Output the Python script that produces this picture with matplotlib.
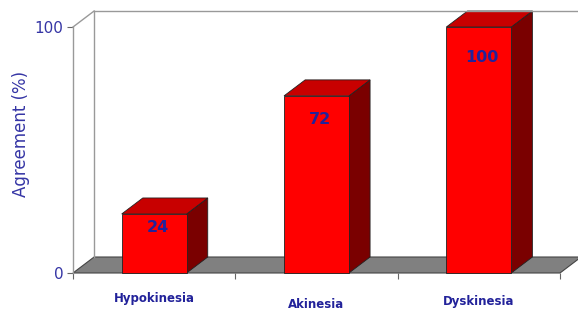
import matplotlib
matplotlib.use("Agg")
import matplotlib.pyplot as plt
from matplotlib.patches import Polygon

# data
categories = ["Hypokinesia", "Akinesia", "Dyskinesia"]
agreement = [24, 72, 100]
y_ticks = [0, 100]

# 3D look: depth offset in data units
dx, dy = 0.13, 6.5
bar_w = 0.40
navy = "#22229a"

fig = plt.figure(figsize=(5.78, 3.14), dpi=100)
ax = fig.add_axes([73 / 578, 41 / 314, 487 / 578, 246 / 314])
ax.set_xlim(0, 3)
ax.set_ylim(0, 100)
for s in ax.spines.values():
    s.set_visible(False)

# back wall and frame lines
ax.plot([dx, dx], [dy, 100 + dy], color="#999999", lw=1, clip_on=False)
ax.plot([dx, 3.2], [100 + dy, 100 + dy], color="#999999", lw=1, clip_on=False)
ax.plot([0, dx], [100, 100 + dy], color="#999999", lw=1, clip_on=False)
ax.plot([0, 0], [0, 100], color="#999999", lw=1, clip_on=False)

# floor
floor = Polygon([(0, 0), (3, 0), (3 + dx, dy), (dx, dy)], closed=True,
                facecolor="#808080", edgecolor="#444444", lw=0.8, clip_on=False)
ax.add_patch(floor)

# bars
for i, h in enumerate(agreement):
    x0 = i + 0.5 - bar_w / 2
    x1 = x0 + bar_w
    side = Polygon([(x1, 0), (x1 + dx, dy), (x1 + dx, h + dy), (x1, h)],
                   facecolor="#7a0000", edgecolor="#222222", lw=0.6, clip_on=False)
    top = Polygon([(x0, h), (x1, h), (x1 + dx, h + dy), (x0 + dx, h + dy)],
                  facecolor="#c80000", edgecolor="#222222", lw=0.6, clip_on=False)
    front = Polygon([(x0, 0), (x1, 0), (x1, h), (x0, h)],
                    facecolor="#ff0000", edgecolor="#222222", lw=0.6, clip_on=False)
    ax.add_patch(side)
    ax.add_patch(top)
    ax.add_patch(front)
    ax.text(i + 0.52, 0.914 * h - 3.6, str(h), ha="center", va="center",
            fontsize=11.5, fontweight="bold", color=navy)

# category labels (slightly staggered like the original)
label_y = [-10.5, -13, -11.5]
for i, name in enumerate(categories):
    ax.text(i + 0.5, label_y[i], name, ha="center", va="center",
            fontsize=8.5, fontweight="bold", color=navy, clip_on=False)

ax.set_xticks([0, 1, 2, 3])
ax.set_xticklabels([])
ax.set_yticks(y_ticks)
ax.set_yticklabels([str(t) for t in y_ticks], fontsize=11, color="#3535a5")
ax.tick_params(axis="both", length=4, color="#666666", width=0.8)
ax.tick_params(axis="y", pad=3)
ax.set_ylabel("Agreement (%)", fontsize=12, color="#3535a5")
ax.yaxis.set_label_coords(-0.088, 0.565)
ax.set_facecolor("none")

fig.savefig("out.png", dpi=100)
